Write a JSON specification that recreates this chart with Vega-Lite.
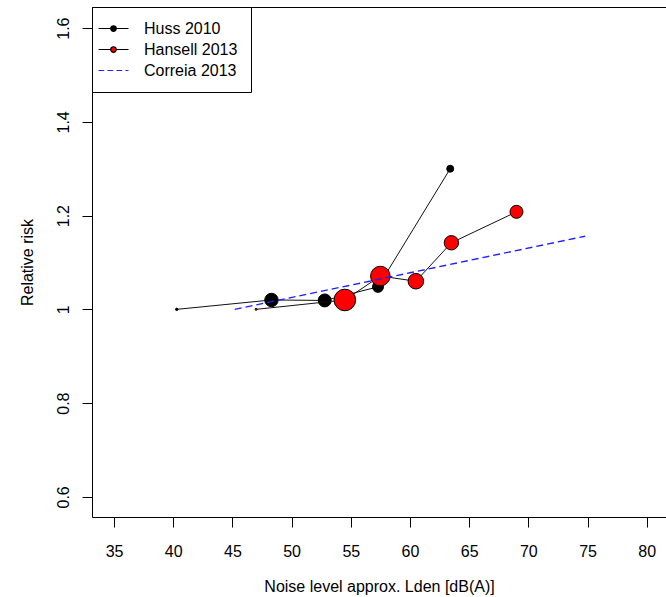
{
  "$schema": "https://vega.github.io/schema/vega-lite/v6.json",
  "autosize": {"type": "none"},
  "padding": {"left": 92, "top": 7, "right": 0, "bottom": 80},
  "width": 574,
  "height": 510,
  "background": "white",
  "data": {
    "values": [
      {"study": "Huss 2010", "noise": 40.3, "rr": 1.0, "weight": 6},
      {"study": "Huss 2010", "noise": 48.3, "rr": 1.02, "weight": 180},
      {"study": "Huss 2010", "noise": 52.8, "rr": 1.019, "weight": 169},
      {"study": "Huss 2010", "noise": 57.3, "rr": 1.048, "weight": 121},
      {"study": "Huss 2010", "noise": 63.4, "rr": 1.3, "weight": 49},
      {"study": "Hansell 2013", "noise": 47.0, "rr": 1.0, "weight": 4},
      {"study": "Hansell 2013", "noise": 54.5, "rr": 1.02, "weight": 467},
      {"study": "Hansell 2013", "noise": 57.5, "rr": 1.071, "weight": 384},
      {"study": "Hansell 2013", "noise": 60.5, "rr": 1.06, "weight": 243},
      {"study": "Hansell 2013", "noise": 63.5, "rr": 1.142, "weight": 207},
      {"study": "Hansell 2013", "noise": 69.0, "rr": 1.208, "weight": 169},
      {"study": "Correia 2013", "noise": 45.2, "rr": 1.0},
      {"study": "Correia 2013", "noise": 60.0, "rr": 1.078},
      {"study": "Correia 2013", "noise": 74.8, "rr": 1.156}
    ]
  },
  "resolve": {"axis": {"x": "independent", "y": "independent"}},
  "layer": [
    {
      "transform": [{"filter": "datum.study == 'Huss 2010'"}],
      "mark": {"type": "line", "color": "#111111", "strokeWidth": 1},
      "encoding": {
        "x": {
          "field": "noise", "type": "quantitative",
          "scale": {"domain": [33.14, 81.63], "nice": false, "zero": false},
          "axis": {
            "orient": "bottom",
            "values": [35, 40, 45, 50, 55, 60, 65, 70, 75, 80],
            "title": "Noise level approx. Lden [dB(A)]",
            "labelPadding": 16, "titlePadding": 19, "domain": true
          }
        },
        "y": {
          "field": "rr", "type": "quantitative",
          "scale": {"domain": [0.557, 1.645], "nice": false, "zero": false},
          "axis": {
            "orient": "left",
            "values": [0.6, 0.8, 1, 1.2, 1.4, 1.6],
            "format": "~f",
            "title": "Relative risk",
            "labelAngle": 270, "labelAlign": "center", "labelBaseline": "bottom",
            "labelPadding": 11, "titlePadding": 20, "domain": true
          }
        }
      }
    },
    {
      "transform": [{"filter": "datum.study == 'Huss 2010'"}],
      "mark": {"type": "point", "filled": true, "fill": "black", "stroke": "black", "strokeWidth": 1, "opacity": 1, "shape": "circle"},
      "encoding": {
        "x": {"field": "noise", "type": "quantitative", "axis": null},
        "y": {"field": "rr", "type": "quantitative", "axis": null},
        "size": {"field": "weight", "type": "quantitative", "scale": {"domain": [0, 500], "range": [0, 500], "zero": true}, "legend": null}
      }
    },
    {
      "transform": [{"filter": "datum.study == 'Hansell 2013'"}],
      "mark": {"type": "line", "color": "#111111", "strokeWidth": 1},
      "encoding": {
        "x": {"field": "noise", "type": "quantitative", "axis": null},
        "y": {"field": "rr", "type": "quantitative", "axis": null}
      }
    },
    {
      "transform": [{"filter": "datum.study == 'Hansell 2013'"}],
      "mark": {"type": "point", "filled": true, "fill": "#ff0000", "stroke": "black", "strokeWidth": 1, "opacity": 1, "shape": "circle"},
      "encoding": {
        "x": {"field": "noise", "type": "quantitative", "axis": null},
        "y": {"field": "rr", "type": "quantitative", "axis": null},
        "size": {"field": "weight", "type": "quantitative", "scale": {"domain": [0, 500], "range": [0, 500], "zero": true}, "legend": null}
      }
    },
    {
      "transform": [{"filter": "datum.study == 'Correia 2013'"}],
      "mark": {"type": "line", "color": "#1f1fff", "strokeWidth": 1.4, "strokeDash": [7, 4]},
      "encoding": {
        "x": {
          "field": "noise", "type": "quantitative",
          "axis": {"orient": "top", "labels": false, "ticks": false, "title": null, "domain": true}
        },
        "y": {"field": "rr", "type": "quantitative", "axis": null}
      }
    },
    {
      "transform": [{"filter": "datum.study == 'legend only'"}],
      "mark": {"type": "point", "filled": true, "opacity": 1},
      "encoding": {
        "fill": {
          "field": "study", "type": "nominal",
          "scale": {"domain": ["Huss 2010", "Hansell 2013", "Correia 2013"], "range": ["black", "#ff0000", "transparent"]},
          "legend": {"title": null}
        },
        "stroke": {
          "field": "study", "type": "nominal",
          "scale": {"domain": ["Huss 2010", "Hansell 2013", "Correia 2013"], "range": ["black", "black", "#1f1fff"]},
          "legend": {"title": null}
        },
        "shape": {
          "field": "study", "type": "nominal",
          "scale": {
            "domain": ["Huss 2010", "Hansell 2013", "Correia 2013"],
            "range": [
              "M-2,0H-0.37M0.37,0H2M0.37,0A0.37,0.37,0,1,1,-0.37,0A0.37,0.37,0,1,1,0.37,0Z",
              "M-2,0H-0.37M0.37,0H2M0.37,0A0.37,0.37,0,1,1,-0.37,0A0.37,0.37,0,1,1,0.37,0Z",
              "M-2,0H-1.25M-0.8,0H-0.05M0.4,0H1.15M1.6,0H2"
            ]
          },
          "legend": {"title": null}
        }
      }
    }
  ],
  "config": {
    "view": {"stroke": null},
    "axis": {
      "grid": false,
      "domainColor": "black", "domainWidth": 1,
      "tickColor": "black", "tickWidth": 1, "tickSize": 10,
      "labelColor": "black", "titleColor": "black",
      "labelFont": "Liberation Sans", "titleFont": "Liberation Sans",
      "labelFontSize": 16, "titleFontSize": 16, "titleFontWeight": "normal"
    },
    "legend": {
      "orient": "top-left", "offset": 0, "padding": 13,
      "strokeColor": "black", "strokeWidth": 1, "fillColor": "white",
      "symbolSize": 225, "symbolStrokeWidth": 1.2, "rowPadding": 4,
      "labelOffset": 22, "labelFont": "Liberation Sans", "labelFontSize": 16,
      "labelColor": "black", "cornerRadius": 0
    }
  }
}
